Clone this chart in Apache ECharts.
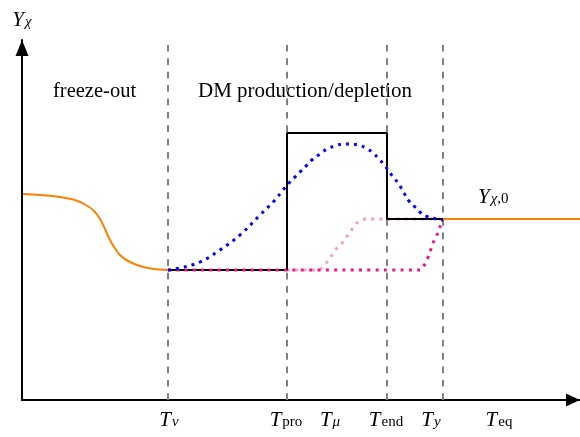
<!DOCTYPE html>
<html>
<head>
<meta charset="utf-8">
<script src="https://cdn.jsdelivr.net/npm/echarts@6/dist/echarts.min.js"></script>
<style>html,body{margin:0;padding:0;background:#fff}#c{width:580px;height:437px}</style>
</head>
<body>
<div id="c"></div>
<script>
// Schematic coordinates (arbitrary units): x = temperature direction, y = yield Y_chi
var freezeOut = [[1,206],[18,205],[38,203],[53,200],[64,195],[72,189],[78,181],[83,171],[87,162],[92,153],[98,145],[106,139],[118,134],[132,131],[146,130]];
var stepYield = [[146,130],[265,130],[265,267],[365,267],[365,181],[421,181]];
var relicFlat = [[421,181],[558,181]];
var blueCurve = [[146,130],[158,132],[178,138],[198,150],[218,165],[238,185],[253,200],[261,210],[267,217],[273,223],[279,229],[285,235],[291,241],[298,246],[305,251],[313,254],[321,256],[328,256],[336,255],[344,252],[351,247],[357,241],[363,234],[368,227],[373,221],[378,214],[382,207],[387,199],[393,193],[399,187],[406,183],[415,181],[421,180]];
var lightPinkCurve = [[265,130],[296,130],[300,132],[305,138],[310,145],[315,152],[321,158],[326,165],[331,172],[336,178],[344,181],[421,181]];
var magentaCurve = [[146,130],[398,130],[401,133],[405,140],[408,148],[411,157],[415,165],[418,173],[421,180]];
var dashedX = [146,265,365,421];
var tickValues = [147,264,308,364,409,477];
var tickLabels = ['{t|T}{s|ν}','{t|T}{u|pro}','{t|T}{s|μ}','{t|T}{u|end}','{t|T}{s|y}','{t|T}{u|eq}'];

var serif = 'Liberation Serif';
var chart = echarts.init(document.getElementById('c'), null, {renderer:'canvas'});
var dashSeries = dashedX.map(function(x){
  return {type:'line', data:[[x,0],[x,360]], symbol:'none', silent:true, z:1,
    lineStyle:{color:'#808080', width:2, type:[6.7,6.7]}};
});
var mainStyle = {fontFamily:serif, fontStyle:'italic', fontSize:21, color:'#000', lineHeight:20, verticalAlign:'top'};
var subItalic = {fontFamily:serif, fontStyle:'italic', fontSize:15, color:'#000', lineHeight:15, verticalAlign:'bottom', padding:[13,0,0,1]};
var subRoman = {fontFamily:serif, fontSize:15, color:'#000', lineHeight:15, verticalAlign:'bottom', padding:[13,0,0,1]};
chart.setOption({
  animation:false,
  grid:{left:22, right:0, top:40, bottom:37},
  xAxis:{type:'value', min:0, max:558,
    axisLine:{show:true, symbol:['none','triangle'], symbolSize:[13,14], symbolOffset:[0,-7], lineStyle:{color:'#000', width:2}},
    axisTick:{show:false}, splitLine:{show:false},
    axisLabel:{show:true, customValues:tickValues, margin:10,
      formatter:function(v){ var i=tickValues.indexOf(v); return i>=0?tickLabels[i]:''; },
      rich:{t:mainStyle, s:subItalic, u:subRoman}}
  },
  yAxis:{type:'value', min:0, max:360,
    axisLine:{show:true, symbol:['none','triangle'], symbolSize:[13,16], symbolOffset:[0,-8], lineStyle:{color:'#000', width:2}},
    axisTick:{show:false}, axisLabel:{show:false}, splitLine:{show:false},
    name:'{t|Y}{s|χ}', nameLocation:'end', nameGap:10,
    nameTextStyle:{align:'center', verticalAlign:'bottom', rich:{t:mainStyle, s:subItalic}}
  },
  graphic:[
    {type:'text', left:53, top:81, style:{text:'freeze-out', font:'20.5px "Liberation Serif"', fill:'#000'}},
    {type:'text', left:198, top:81, style:{text:'DM production/depletion', font:'21px "Liberation Serif"', fill:'#000'}},
    {type:'text', left:478, top:180, style:{text:'{t|Y}{s|χ}{r|,0}', rich:{
      t:{fontFamily:serif, fontStyle:'italic', fontSize:21, fill:'#000', lineHeight:20, verticalAlign:'top'},
      s:{fontFamily:serif, fontStyle:'italic', fontSize:15, fill:'#000', lineHeight:15, verticalAlign:'bottom', padding:[12,0,0,1]},
      r:{fontFamily:serif, fontSize:15, fill:'#000', lineHeight:15, verticalAlign:'bottom', padding:[12,0,0,0]}
    }}}
  ],
  series: dashSeries.concat([
    {type:'line', data:freezeOut, smooth:0.3, symbol:'none', z:3, lineStyle:{color:'#ff8000', width:2}},
    {type:'line', data:relicFlat, symbol:'none', z:3, lineStyle:{color:'#ff8000', width:2}},
    {type:'line', data:lightPinkCurve, smooth:0.3, symbol:'none', z:4, lineStyle:{color:'#f4a0c6', width:3, type:[3,5.3]}},
    {type:'line', data:stepYield, symbol:'none', z:5, lineStyle:{color:'#000', width:2}},
    {type:'line', data:magentaCurve, smooth:0.3, symbol:'none', z:6, lineStyle:{color:'#ee168c', width:3, type:[3,5.3]}},
    {type:'line', data:blueCurve, smooth:0.4, symbol:'none', z:7, lineStyle:{color:'#0000ff', width:3, type:[3,5]}}
  ])
});
</script>
</body>
</html>
